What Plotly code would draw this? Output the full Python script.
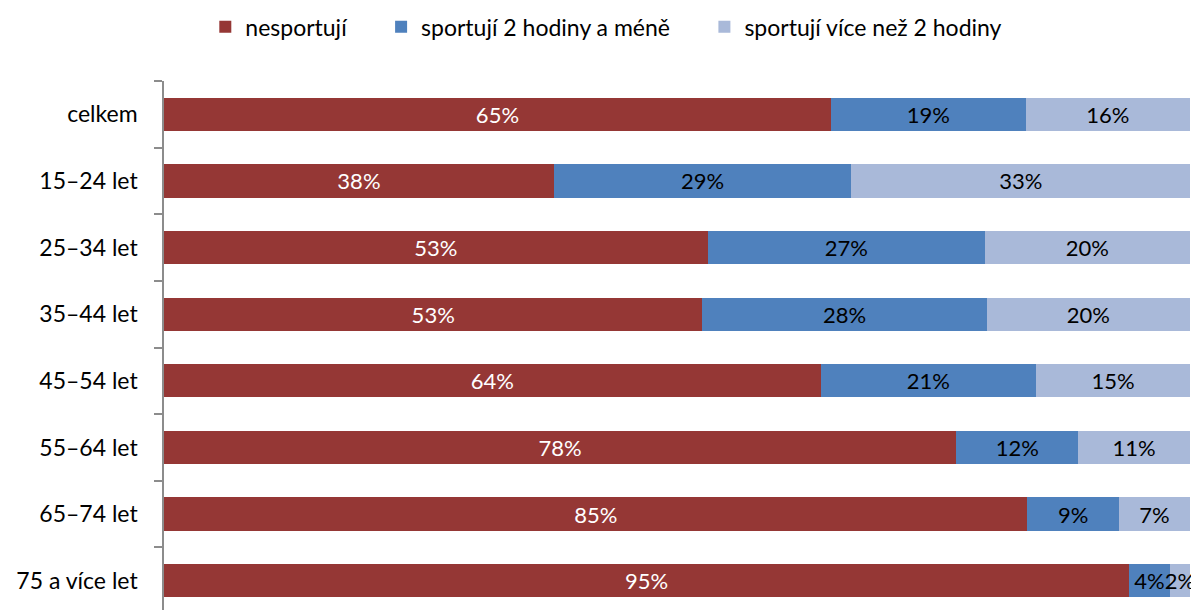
import plotly.graph_objects as go

categories = ["celkem", "15–24 let", "25–34 let", "35–44 let", "45–54 let",
              "55–64 let", "65–74 let", "75 a více let"]
nesportuji = [65, 38, 53, 53, 64, 78, 85, 95]
do_2_hodin = [19, 29, 27, 28, 21, 12, 9, 4]
nad_2_hodiny = [16, 33, 20, 20, 15, 11, 7, 2]
series_names = ["nesportují", "sportují 2 hodiny a méně", "sportují více než 2 hodiny"]
colors = ["#953735", "#4F81BD", "#A9B9D9"]
text_colors = ["white", "black", "black"]

FONT = "Lato"
FS = 23
PAD = "\u00a0" * 5

fig = go.Figure()
for i, (name, vals, col, tcol) in enumerate(zip(series_names, [nesportuji, do_2_hodin, nad_2_hodiny], colors, text_colors)):
    fig.add_trace(go.Bar(
        y=categories, x=vals, name=name + (PAD if i < 2 else ""), orientation="h",
        marker=dict(color=col, line=dict(width=0)),
        text=[f"{v}%" for v in vals],
        textposition="inside", insidetextanchor="middle", textangle=0,
        constraintext="none", cliponaxis=False,
        textfont=dict(family=FONT, size=22, color=tcol),
        width=0.5,
    ))

fig.update_layout(
    barmode="stack", barnorm="percent",
    width=1199, height=610,
    margin=dict(l=156, r=17, t=73, b=0, autoexpand=False),
    plot_bgcolor="white", paper_bgcolor="white",
    font=dict(family=FONT, size=FS, color="black"),
    showlegend=True,
    legend=dict(orientation="h", xref="container", yref="container",
                x=0.499, xanchor="center", y=0.969, yanchor="middle",
                font=dict(family=FONT, size=FS), traceorder="normal"),
    xaxis=dict(range=[0, 100], visible=False, fixedrange=True, automargin=False),
    yaxis=dict(categoryorder="array", categoryarray=categories[::-1], automargin=False,
               range=[-0.56, 7.5], showline=True, linecolor="#8C8C8C", linewidth=1.5,
               ticks="outside", tickson="boundaries", ticklen=8, tickcolor="#8C8C8C",
               tickwidth=1.5, showgrid=False, zeroline=False,
               ticklabelstandoff=20, tickfont=dict(family=FONT, size=FS)),
)

fig.write_html("out.html")
